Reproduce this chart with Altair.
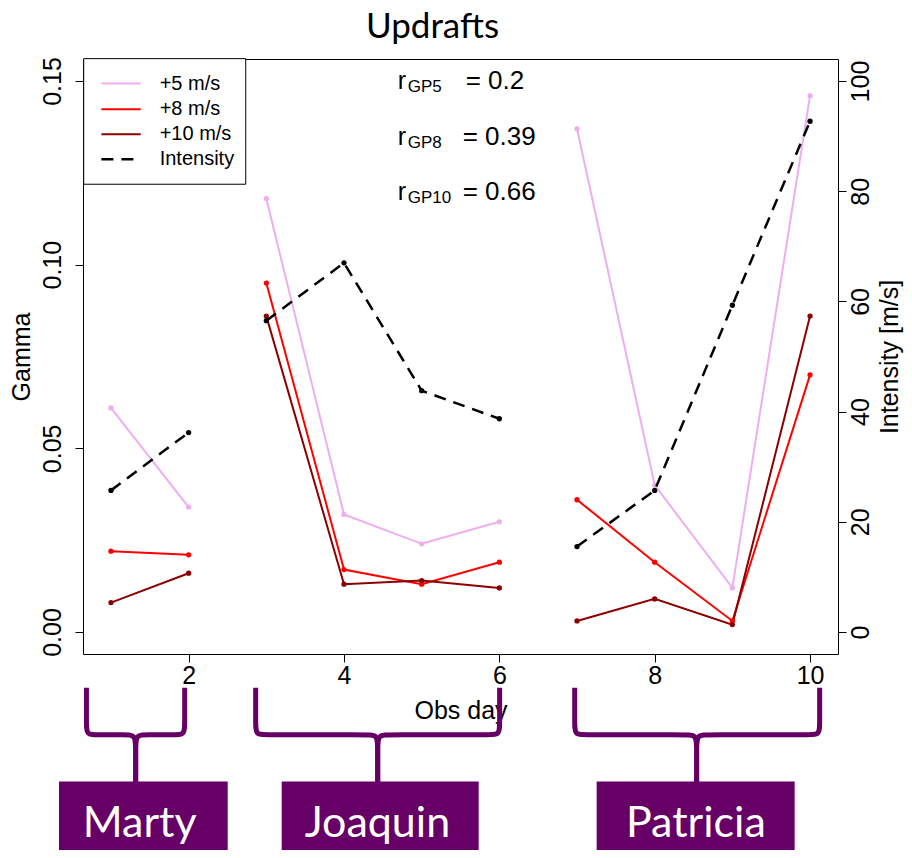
import altair as alt
import pandas as pd

# ---------------- data ----------------
days = [1, 2, 3, 4, 5, 6, 7, 8, 9, 10]
storms = ["Marty", "Marty", "Joaquin", "Joaquin", "Joaquin", "Joaquin",
          "Patricia", "Patricia", "Patricia", "Patricia"]
gamma_5 = [0.061, 0.034, 0.118, 0.032, 0.024, 0.030, 0.137, 0.040, 0.012, 0.146]
gamma_8 = [0.022, 0.021, 0.095, 0.017, 0.013, 0.019, 0.036, 0.019, 0.003, 0.070]
gamma_10 = [0.008, 0.016, 0.086, 0.013, 0.014, 0.012, 0.003, 0.009, 0.002, 0.086]
intensity = [25.7, 36.2, 56.5, 67.0, 43.8, 38.7, 15.5, 25.7, 59.3, 92.7]

series_names = ["+5 m/s", "+8 m/s", "+10 m/s"]
series_colors = ["#EEAEEE", "#FF0000", "#8B0000"]
legend_names = ["+5 m/s", "+8 m/s", "+10 m/s", "Intensity"]

x_ticks = [2, 4, 6, 8, 10]
gamma_ticks = [0.0, 0.05, 0.10, 0.15]
intensity_ticks = [0, 20, 40, 60, 80, 100]

corr_subs = ["GP5", "GP8", "GP10"]
corr_texts = ["= 0.2", "= 0.39", "= 0.66"]

storm_names = ["Marty", "Joaquin", "Patricia"]
chart_title = "Updrafts"

# ---------------- annotation geometry (in data units) ----------------
X_DOMAIN = [0.64, 10.36]
G_DOMAIN = [-0.006, 0.156]
I_DOMAIN = [-4, 104]

title_x = 5.14
title_g = 0.1618

legend_box_x = [0.649, 2.735]
legend_box_g = [0.1219, 0.1561]
legend_line_x = [0.877, 1.383]
legend_text_x = 1.627
legend_row_g = [0.1493, 0.1423, 0.1355, 0.1287]

corr_r_x = 4.691
corr_sub_x = 4.820
corr_eq_x = [5.567, 5.528, 5.528]
corr_base_g = [0.14780, 0.13255, 0.11753]
corr_sub_g = [0.14694, 0.13170, 0.11667]

brace_left = [0.684, 2.863, 6.970]
brace_mid = [1.318, 4.434, 8.540]
brace_right = [1.949, 6.004, 10.124]
brace_corner = 0.13
brace_top_g = -0.0152
brace_bend_g = -0.0247
brace_bar_g = -0.0280
brace_neck_g = -0.0320
brace_stem_g = -0.0420

box_left = [0.331, 3.198, 7.253]
box_right = [2.503, 5.734, 9.802]
box_top_g = -0.0407
box_bottom_g = -0.0660
box_text_x = [1.370, 4.430, 8.530]
box_text_g = -0.0557

PURPLE = "#660066"
FONT = "Liberation Sans"

# ---------------- tables ----------------
gamma_rows = []
for name, vals in zip(series_names, [gamma_5, gamma_8, gamma_10]):
    for d, s, v in zip(days, storms, vals):
        gamma_rows.append({"d": d, "g": v, "series": name, "storm": s})
gamma_df = pd.DataFrame(gamma_rows)

int_df = pd.DataFrame({"d": days, "I": intensity, "storm": storms})

title_df = pd.DataFrame({"d": [title_x], "g": [title_g], "txt": [chart_title]})

legend_box_df = pd.DataFrame({"d": [legend_box_x[0]], "d2": [legend_box_x[1]],
                              "g": [legend_box_g[0]], "g2": [legend_box_g[1]]})
legend_lines_df = pd.DataFrame({"d": [legend_line_x[0]] * 3, "d2": [legend_line_x[1]] * 3,
                                "g": legend_row_g[:3], "series": series_names})
legend_dash_df = pd.DataFrame({"d": [legend_line_x[0]], "d2": [legend_line_x[1]],
                               "g": [legend_row_g[3]]})
legend_text_df = pd.DataFrame({"d": [legend_text_x] * 4, "g": legend_row_g, "txt": legend_names})

corr_r_df = pd.DataFrame({"d": [corr_r_x] * 3, "g": corr_base_g, "txt": ["r"] * 3})
corr_sub_df = pd.DataFrame({"d": [corr_sub_x] * 3, "g": corr_sub_g, "txt": corr_subs})
corr_eq_df = pd.DataFrame({"d": corr_eq_x, "g": corr_base_g, "txt": corr_texts})

brace_rows = []
for i, (xl, xm, xr) in enumerate(zip(brace_left, brace_mid, brace_right)):
    for side, xe, sgn in [("L", xl, 1), ("R", xr, -1)]:
        pts = [(xe, brace_top_g), (xe, brace_bend_g), (xe, brace_bar_g),
               (xe + sgn * brace_corner, brace_bar_g),
               (xm - sgn * brace_corner, brace_bar_g), (xm, brace_bar_g),
               (xm, brace_neck_g), (xm, brace_stem_g)]
        for o, (px, py) in enumerate(pts):
            brace_rows.append({"d": px, "g": py, "o": o, "part": f"{i}{side}"})
brace_df = pd.DataFrame(brace_rows)

box_df = pd.DataFrame({"d": box_left, "d2": box_right,
                       "g": [box_top_g] * 3, "g2": [box_bottom_g] * 3})
box_text_df = pd.DataFrame({"d": box_text_x, "g": [box_text_g] * 3, "txt": storm_names})

# ---------------- encodings ----------------
x_enc = alt.X("d:Q",
              scale=alt.Scale(domain=X_DOMAIN, nice=False, zero=False),
              axis=alt.Axis(values=x_ticks, title="Obs day", labelPadding=1,
                            titlePadding=10))
y_enc = alt.Y("g:Q",
              scale=alt.Scale(domain=G_DOMAIN, nice=False, zero=False),
              axis=alt.Axis(values=gamma_ticks, format=".2f", title="Gamma",
                            labelAngle=270, labelPadding=10, titlePadding=6))
color_enc = alt.Color("series:N", scale=alt.Scale(domain=series_names, range=series_colors),
                      legend=None)

gamma_lines = alt.Chart(gamma_df).mark_line(strokeWidth=2).encode(
    x=x_enc, y=y_enc, color=color_enc, detail="storm:N")
gamma_points = alt.Chart(gamma_df).mark_circle(size=28, opacity=1).encode(
    x=x_enc, y=y_enc, color=color_enc)

title_text = alt.Chart(title_df).mark_text(align="center", baseline="alphabetic", font="Lato",
                                           fontSize=35, color="black").encode(
    x=x_enc, y=y_enc, text="txt:N")

legend_box = alt.Chart(legend_box_df).mark_rect(fill="white", stroke="black", strokeWidth=1).encode(
    x=x_enc, x2="d2:Q", y=y_enc, y2="g2:Q")
legend_lines = alt.Chart(legend_lines_df).mark_rule(strokeWidth=2).encode(
    x=x_enc, x2="d2:Q", y=y_enc, color=color_enc)
legend_dash = alt.Chart(legend_dash_df).mark_rule(strokeWidth=2.5, color="black",
                                                  strokeDash=[12, 8]).encode(
    x=x_enc, x2="d2:Q", y=y_enc)
legend_text = alt.Chart(legend_text_df).mark_text(align="left", baseline="middle", font=FONT,
                                                  fontSize=20, color="black").encode(
    x=x_enc, y=y_enc, text="txt:N")

corr_r = alt.Chart(corr_r_df).mark_text(align="left", baseline="alphabetic", font=FONT,
                                        fontSize=25, color="black").encode(
    x=x_enc, y=y_enc, text="txt:N")
corr_sub = alt.Chart(corr_sub_df).mark_text(align="left", baseline="alphabetic", font=FONT,
                                            fontSize=17, color="black").encode(
    x=x_enc, y=y_enc, text="txt:N")
corr_eq = alt.Chart(corr_eq_df).mark_text(align="left", baseline="alphabetic", font=FONT,
                                          fontSize=26, color="black").encode(
    x=x_enc, y=y_enc, text="txt:N")

braces = alt.Chart(brace_df).mark_line(interpolate="basis", color=PURPLE, strokeWidth=5,
                                       strokeCap="butt").encode(
    x=x_enc, y=y_enc, order="o:Q", detail="part:N")
boxes = alt.Chart(box_df).mark_rect(color=PURPLE).encode(
    x=x_enc, x2="d2:Q", y=y_enc, y2="g2:Q")
box_text = alt.Chart(box_text_df).mark_text(align="center", baseline="alphabetic", font="Lato",
                                            fontSize=43, color="white").encode(
    x=x_enc, y=y_enc, text="txt:N")

gamma_group = alt.layer(title_text, legend_box, legend_lines, legend_dash, legend_text,
                        corr_r, corr_sub, corr_eq,
                        braces, boxes, box_text,
                        gamma_lines, gamma_points)

yi_enc = alt.Y("I:Q",
               scale=alt.Scale(domain=I_DOMAIN, nice=False, zero=False),
               axis=alt.Axis(values=intensity_ticks, orient="right", title="Intensity [m/s]",
                             labelAngle=270, labelPadding=2, titleAngle=270,
                             titleBaseline="top", titlePadding=4))
int_line = alt.Chart(int_df).mark_line(strokeWidth=2.5, color="black", strokeDash=[12, 8]).encode(
    x=x_enc, y=yi_enc, detail="storm:N")
int_points = alt.Chart(int_df).mark_circle(size=28, opacity=1, color="black").encode(
    x=x_enc, y=yi_enc)
int_group = alt.layer(int_line, int_points)

chart = alt.layer(gamma_group, int_group).resolve_scale(y="independent").properties(
    width=755, height=595,
    background="white",
    autosize=alt.AutoSizeParams(type="none"),
    padding={"left": 75, "top": 51, "right": 66, "bottom": 196},
).configure_view(stroke="black", strokeWidth=1).configure_axis(
    grid=False, domain=False, tickColor="black", tickSize=8, tickWidth=1,
    labelColor="black", labelFont=FONT, labelFontSize=25,
    titleColor="black", titleFont=FONT, titleFontSize=25, titleFontWeight="normal",
)

chart.save("out.html", embed_options={"renderer": "svg", "actions": False})
